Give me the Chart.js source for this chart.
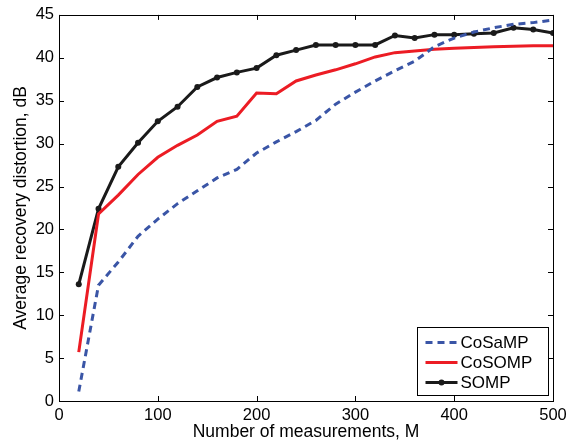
<!DOCTYPE html>
<html>
<head>
<meta charset="utf-8">
<script src="https://cdn.jsdelivr.net/npm/chart.js@4.4.0/dist/chart.umd.min.js"></script>
<style>
  html, body { margin: 0; padding: 0; background: #fff; }
</style>
</head>
<body>
<canvas id="chart" width="574" height="444"></canvas>
<script>
// data
const measurements = [20, 40, 60, 80, 100, 120, 140, 160, 180, 200, 220, 240, 260, 280, 300, 320, 340, 360, 380, 400, 420, 440, 460, 480, 500];
const cosamp = [1.1, 13.5, 16.2, 19.2, 21.2, 23.0, 24.5, 26.0, 27.0, 28.9, 30.2, 31.4, 32.7, 34.6, 36.0, 37.3, 38.5, 39.6, 41.3, 42.3, 43.0, 43.5, 43.9, 44.1, 44.4];
const cosomp = [5.7, 21.8, 24.0, 26.4, 28.4, 29.8, 31.0, 32.6, 33.2, 35.9, 35.8, 37.3, 38.0, 38.6, 39.3, 40.1, 40.6, 40.8, 41.0, 41.1, 41.2, 41.3, 41.35, 41.4, 41.4];
const somp = [13.6, 22.4, 27.3, 30.1, 32.6, 34.3, 36.6, 37.7, 38.3, 38.8, 40.3, 40.9, 41.5, 41.5, 41.5, 41.5, 42.6, 42.3, 42.7, 42.7, 42.8, 42.9, 43.5, 43.3, 42.9];
const xTicks = [0, 100, 200, 300, 400, 500];
const yTicks = [0, 5, 10, 15, 20, 25, 30, 35, 40, 45];

const FONT = '"Liberation Sans", Arial, Helvetica, sans-serif';

const toPoints = (vals) => vals.map((v, i) => ({ x: measurements[i], y: v }));

// MATLAB style box, inward ticks and legend
const matlabFrame = {
  id: 'matlabFrame',
  afterDatasetsDraw(chart) {
    const { ctx, chartArea: a, scales: { x, y } } = chart;
    const tl = 5;
    ctx.save();
    ctx.strokeStyle = '#000';
    ctx.lineWidth = 1;
    ctx.beginPath();
    xTicks.forEach(v => {
      const px = Math.round(x.getPixelForValue(v)) + 0.5;
      ctx.moveTo(px, a.bottom); ctx.lineTo(px, a.bottom - tl);
      ctx.moveTo(px, a.top); ctx.lineTo(px, a.top + tl);
    });
    yTicks.forEach(v => {
      const py = Math.round(y.getPixelForValue(v)) + 0.5;
      ctx.moveTo(a.left, py); ctx.lineTo(a.left + tl, py);
      ctx.moveTo(a.right, py); ctx.lineTo(a.right - tl, py);
    });
    ctx.stroke();
    ctx.strokeRect(Math.round(a.left) + 0.5, Math.round(a.top) + 0.5,
      Math.round(a.right - a.left), Math.round(a.bottom - a.top));

    // legend box
    const bw = 131, bh = 68;
    const bx = Math.round(a.right) - 5 - bw + 0.5;
    const by = Math.round(a.bottom) - 6 - bh + 0.5;
    ctx.fillStyle = '#fff';
    ctx.fillRect(bx, by, bw, bh);
    ctx.strokeRect(bx, by, bw, bh);
    ctx.font = '17px ' + FONT;
    ctx.textBaseline = 'middle';
    ctx.textAlign = 'left';
    chart.data.datasets.forEach((ds, i) => {
      const ry = by + 15 + i * 20;
      const x0 = bx + 8, x1 = bx + 40;
      ctx.save();
      ctx.strokeStyle = ds.borderColor;
      ctx.lineWidth = ds.borderWidth;
      ctx.setLineDash(ds.borderDash || []);
      ctx.beginPath();
      ctx.moveTo(x0, ry); ctx.lineTo(x1, ry);
      ctx.stroke();
      ctx.restore();
      if (ds.pointRadius > 0) {
        ctx.fillStyle = ds.pointBackgroundColor;
        ctx.beginPath();
        ctx.arc((x0 + x1) / 2, ry, ds.pointRadius, 0, Math.PI * 2);
        ctx.fill();
      }
      ctx.fillStyle = '#000';
      ctx.fillText(ds.label, x1 + 3, ry + 1);
    });
    ctx.restore();
  }
};

new Chart(document.getElementById('chart'), {
  type: 'line',
  data: {
    datasets: [
      {
        label: 'CoSaMP',
        data: toPoints(cosamp),
        borderColor: '#3a55a6',
        borderWidth: 3,
        borderDash: [7, 5],
        pointRadius: 0,
        tension: 0
      },
      {
        label: 'CoSOMP',
        data: toPoints(cosomp),
        borderColor: '#ec1c24',
        borderWidth: 3,
        pointRadius: 0,
        tension: 0
      },
      {
        label: 'SOMP',
        data: toPoints(somp),
        borderColor: '#1a1a1a',
        borderWidth: 3,
        pointRadius: 3,
        pointBackgroundColor: '#1a1a1a',
        pointBorderWidth: 0,
        tension: 0
      }
    ]
  },
  options: {
    responsive: false,
    devicePixelRatio: 1,
    animation: false,
    layout: { padding: { left: 0, right: 21, top: 10, bottom: 0 } },
    plugins: {
      legend: { display: false },
      tooltip: { enabled: false }
    },
    scales: {
      x: {
        type: 'linear',
        min: 0,
        max: 500,
        afterFit: (s) => { s.height = 43; },
        afterBuildTicks: (s) => { s.ticks = xTicks.map(v => ({ value: v })); },
        grid: { display: false, drawTicks: false },
        border: { display: false },
        ticks: { color: '#000', padding: 5, maxRotation: 0, font: { family: FONT, size: 16.5 } },
        title: {
          display: true,
          text: 'Number of measurements, M',
          color: '#000',
          padding: { top: 0, bottom: 1 },
          font: { family: FONT, size: 17.5 }
        }
      },
      y: {
        min: 0,
        max: 45,
        afterFit: (s) => { s.width = 59; },
        afterBuildTicks: (s) => { s.ticks = yTicks.map(v => ({ value: v })); },
        grid: { display: false, drawTicks: false },
        border: { display: false },
        ticks: { color: '#000', padding: 5, font: { family: FONT, size: 16.5 } },
        title: {
          display: true,
          text: 'Average recovery distortion, dB',
          color: '#000',
          padding: { top: 11, bottom: 0 },
          font: { family: FONT, size: 17.5 }
        }
      }
    }
  },
  plugins: [matlabFrame]
});
</script>
</body>
</html>
